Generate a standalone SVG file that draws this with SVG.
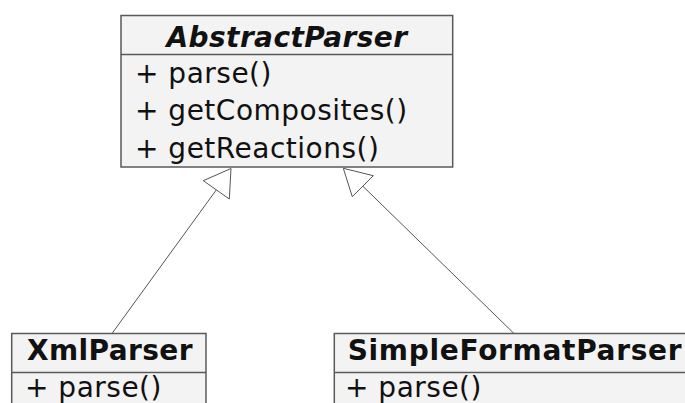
<svg xmlns="http://www.w3.org/2000/svg" width="685" height="403" viewBox="0 0 685 403">
<style>
.box{fill:#F3F3F3;stroke:#5a5a5a;stroke-width:1.5}
.sep{stroke:#5a5a5a;stroke-width:1.5}
.title{font-family:"DejaVu Sans",sans-serif;font-size:28px;font-weight:bold;fill:#111;text-anchor:middle;letter-spacing:0.4px}
.abs{font-style:italic}
.mem{font-family:"DejaVu Sans",sans-serif;font-size:28px;fill:#111;letter-spacing:0.5px}
.edge{stroke:#555;stroke-width:1;fill:none}
.head{stroke:#555;stroke-width:1;fill:#fff}
</style>
<rect width="685" height="403" fill="#fff"/>
<g id="connectors">
<line class="edge" x1="216.3" y1="189.9" x2="112" y2="333.5"/>
<polygon class="head" points="231,168.5 203.3,180.7 229.3,199"/>
<line class="edge" x1="362.8" y1="186.2" x2="514" y2="333.5"/>
<polygon class="head" points="343.3,168.3 373.3,175.7 352.3,196.7"/>
</g>
<g id="AbstractParser">
<rect class="box" x="121" y="15.5" width="331.7" height="151.5"/>
<line class="sep" x1="121" y1="54.5" x2="452.7" y2="54.5"/>
<text class="title abs" x="287" y="47">AbstractParser</text>
<text class="mem" x="135" y="83">+ parse()</text>
<text class="mem" x="135" y="120">+ getComposites()</text>
<text class="mem" x="135" y="158">+ getReactions()</text>
</g>
<g id="XmlParser">
<rect class="box" x="11.7" y="333.5" width="194.3" height="100"/>
<line class="sep" x1="11.7" y1="372.5" x2="206" y2="372.5"/>
<text class="title" x="110" y="360">XmlParser</text>
<text class="mem" x="25" y="397">+ parse()</text>
</g>
<g id="SimpleFormatParser">
<rect class="box" x="334.3" y="333.5" width="365" height="100"/>
<line class="sep" x1="334.3" y1="372.5" x2="699.3" y2="372.5"/>
<text class="title" x="515" y="360" style="letter-spacing:0.7px">SimpleFormatParser</text>
<text class="mem" x="345" y="397">+ parse()</text>
</g>
</svg>
